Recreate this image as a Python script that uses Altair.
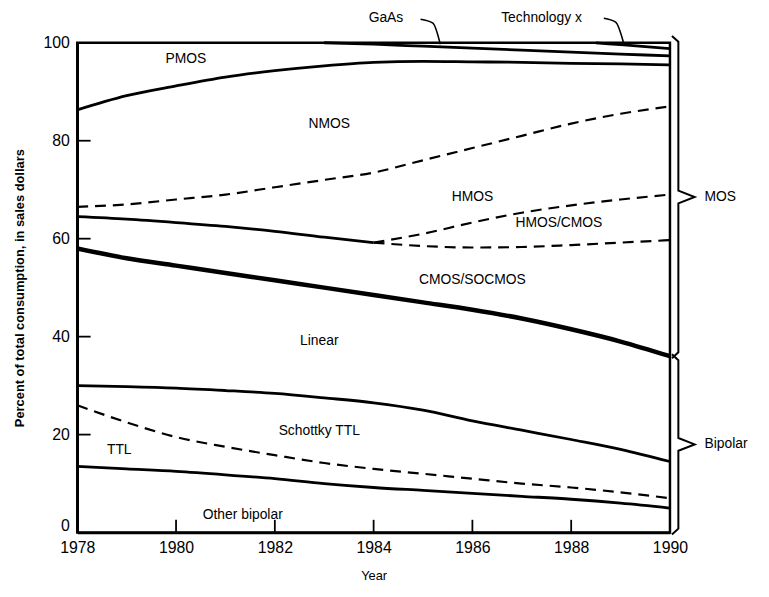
import altair as alt
import pandas as pd

FONT = "Liberation Sans"

years = list(range(1978, 1991))
years_late = list(range(1984, 1991))

# boundaries between stacked technology shares (percent, cumulative from bottom)
other_top = [13.5, 13.0, 12.5, 11.8, 11.0, 10.0, 9.2, 8.6, 8.0, 7.4, 6.8, 6.0, 5.0]
ttl_top = [26.0, 22.5, 19.5, 17.5, 15.8, 14.2, 13.0, 12.0, 11.0, 10.0, 9.2, 8.2, 7.0]
schottky_top = [30.0, 29.8, 29.5, 29.0, 28.4, 27.5, 26.5, 25.0, 22.8, 20.9, 19.0, 17.0, 14.5]
linear_top = [58.0, 56.0, 54.5, 53.0, 51.5, 50.0, 48.5, 47.0, 45.5, 43.7, 41.5, 39.0, 36.0]
cmos_top_early = [64.5, 64.0, 63.3, 62.5, 61.5, 60.3, 59.2]
cmos_top_late = [59.2, 58.5, 58.2, 58.3, 58.7, 59.2, 59.7]
hmoscmos_top = [59.2, 61.0, 63.3, 65.3, 66.8, 68.0, 69.0]
hmos_top = [66.5, 67.0, 68.0, 69.0, 70.5, 72.0, 73.5, 76.0, 78.5, 81.0, 83.5, 85.5, 87.0]
nmos_top = [86.3, 89.2, 91.2, 93.0, 94.3, 95.3, 96.0, 96.2, 96.1, 96.0, 95.8, 95.7, 95.5]
gaas_years = [1983, 1984, 1985, 1986, 1987, 1988, 1989, 1990]
pmos_top = [100.0, 99.7, 99.3, 98.9, 98.5, 98.1, 97.7, 97.3]
techx_years = [1988.5, 1989, 1990]
gaas_top = [100.0, 99.6, 98.8]

x_ticks = [1978, 1980, 1982, 1984, 1986, 1988, 1990]
y_ticks = [0, 20, 40, 60, 80, 100]

labels = ["PMOS", "NMOS", "HMOS", "HMOS/CMOS", "CMOS/SOCMOS", "Linear",
          "Schottky TTL", "TTL", "Other bipolar", "GaAs", "Technology x"]
label_x = [1980.2, 1983.1, 1986.0, 1987.75, 1986.0, 1982.9, 1982.9, 1978.85, 1981.35, 1984.25, 1987.4]
label_y = [96.6, 83.4, 68.5, 63.2, 51.5, 39.0, 20.8, 16.8, 3.6, 105.0, 105.0]

groups = ["MOS", "Bipolar"]
group_lo = [36.0, 0.0]
group_hi = [101.0, 36.0]

# pointers from the GaAs / Technology x labels
gaas_ptr_x = [1984.95, 1985.2, 1985.35]
gaas_ptr_y = [104.8, 104.0, 99.7]
techx_ptr_x = [1988.66, 1988.9, 1989.06]
techx_ptr_y = [105.0, 104.2, 100.0]

rows = []
def add(name, xs, ys, style):
    for i, (a, b) in enumerate(zip(xs, ys)):
        rows.append({"series": name, "x": a, "y": b, "style": style, "i": i})

add("other_top", years, other_top, "solid")
add("schottky_top", years, schottky_top, "solid")
add("cmos_early", years[:7], cmos_top_early, "solid")
add("nmos_top", years, nmos_top, "solid")
add("pmos_top", gaas_years, pmos_top, "solid")
add("gaas_top", techx_years, gaas_top, "solid")
add("linear_top", years, linear_top, "thick")
add("ttl_top", years, ttl_top, "dash")
add("hmos_top", years, hmos_top, "dash")
add("hmoscmos_top", years_late, hmoscmos_top, "dash")
add("cmos_late", years_late, cmos_top_late, "dash")
add("gaas_ptr", gaas_ptr_x, gaas_ptr_y, "ptr")
add("techx_ptr", techx_ptr_x, techx_ptr_y, "ptr")

for g, lo, hi in zip(groups, group_lo, group_hi):
    mid = (lo + hi) / 2
    bx = [1990.04, 1990.17, 1990.17, 1990.5, 1990.17, 1990.17, 1990.04]
    by = [hi + 0.4, hi - 0.8, mid + 1.3, mid, mid - 1.3, lo + 0.8, lo - 0.4]
    add("brace_" + g, bx, by, "brace")

df = pd.DataFrame(rows)

xscale = alt.Scale(domain=[1978, 1990], nice=False, zero=False)
yscale = alt.Scale(domain=[0, 100], nice=False)

xaxis = alt.Axis(values=x_ticks, format="d", ticks=False, grid=False,
                 domainColor="black", domainWidth=2.5, labelFlush=False,
                 labelFont=FONT, labelFontSize=16, labelColor="black", labelPadding=7,
                 title="Year", titleFont=FONT, titleFontSize=13, titleFontWeight="normal",
                 titleColor="black", titlePadding=14)
yaxis = alt.Axis(values=y_ticks, ticks=False, grid=False,
                 domainColor="black", domainWidth=2.5,
                 labelFont=FONT, labelFontSize=16, labelColor="black", labelPadding=8,
                 labelOffset={"condition": {"test": "datum.value === 0", "value": -7}, "value": 0},
                 title="Percent of total consumption, in sales dollars",
                 titleFont=FONT, titleFontSize=13, titleFontWeight="bold",
                 titleColor="black", titlePadding=17)

base = alt.Chart(df)
X = alt.X("x:Q", scale=xscale, axis=xaxis)
Y = alt.Y("y:Q", scale=yscale, axis=yaxis)

def lines(style, **kw):
    return base.transform_filter(alt.datum.style == style).mark_line(
        color="black", **kw).encode(x=X, y=Y, detail="series:N", order="i:Q")

solid = lines("solid", strokeWidth=2.8, interpolate="monotone")
thick = lines("thick", strokeWidth=4.5, interpolate="monotone")
dash = lines("dash", strokeWidth=2.2, strokeDash=[11, 7], interpolate="monotone")
ptr = lines("ptr", strokeWidth=1.6, interpolate="monotone")
brace = lines("brace", strokeWidth=2.0)

# inward tick marks
tick_rows = []
for v in x_ticks[1:-1]:
    tick_rows.append({"x": v, "x2": v, "y": 0, "y2": 2.6})
for v in y_ticks[1:-1]:
    tick_rows.append({"x": 1978, "x2": 1978.27, "y": v, "y2": v})
ticks = alt.Chart(pd.DataFrame(tick_rows)).mark_rule(color="black", strokeWidth=1.8).encode(
    x=alt.X("x:Q", scale=xscale), x2="x2:Q", y=alt.Y("y:Q", scale=yscale), y2="y2:Q")

lab_df = pd.DataFrame({"x": label_x, "y": label_y, "text": labels})
lab = alt.Chart(lab_df).mark_text(font=FONT, fontSize=14, color="black").encode(
    x=alt.X("x:Q", scale=xscale), y=alt.Y("y:Q", scale=yscale), text="text:N")

grp_df = pd.DataFrame({"x": [1990.7, 1990.7],
                       "y": [(l + h) / 2 for l, h in zip(group_lo, group_hi)],
                       "text": groups})
grp = alt.Chart(grp_df).mark_text(font=FONT, fontSize=14, color="black", align="left").encode(
    x=alt.X("x:Q", scale=xscale), y=alt.Y("y:Q", scale=yscale), text="text:N")

chart = alt.layer(solid, thick, dash, ptr, brace, ticks, lab, grp).properties(
    width=599, height=495,
    padding={"left": 70, "top": 32, "right": 92, "bottom": 62},
    autosize="none",
    background="white",
).configure_view(stroke="black", strokeWidth=2.5)

chart.save("out.html", embed_options={"renderer": "svg", "actions": False})
